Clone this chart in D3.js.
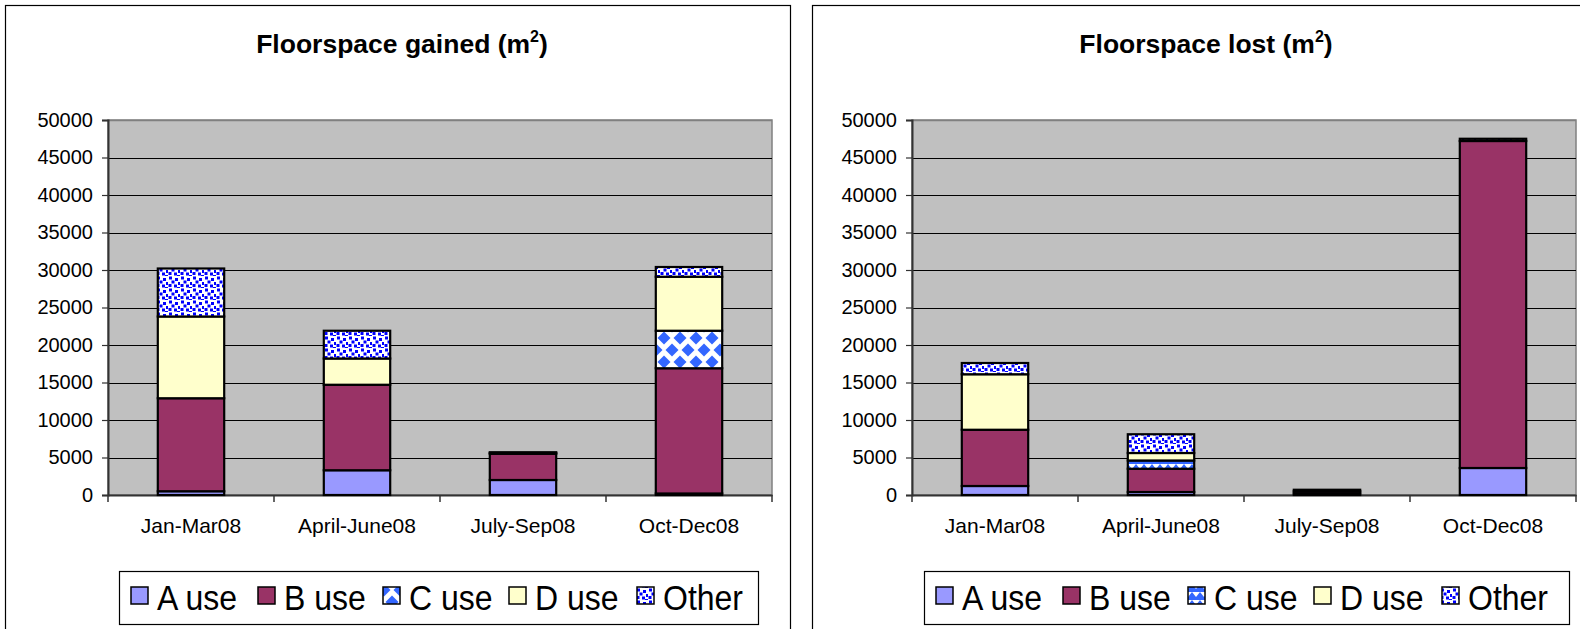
<!DOCTYPE html>
<html><head><meta charset="utf-8">
<script src="https://cdn.jsdelivr.net/npm/d3@7"></script>
<style>
html,body{margin:0;padding:0;background:#fff;}
svg{display:block;font-family:"Liberation Sans",Arial,sans-serif;}
</style></head>
<body>
<svg id="c" width="1580" height="629"></svg>
<script>
const categories = ["Jan-Mar08","April-June08","July-Sep08","Oct-Dec08"];
const seriesNames = ["A use","B use","C use","D use","Other"];
const yTicks = [0,5000,10000,15000,20000,25000,30000,35000,40000,45000,50000];

const gainedA = [500, 3300, 2000, 200];
const gainedB = [12400, 11400, 3500, 16700];
const gainedC = [0, 0, 0, 5000];
const gainedD = [10900, 3500, 100, 7200];
const gainedOther = [6400, 3700, 100, 1300];

const lostA = [1200, 400, 200, 3600];
const lostB = [7500, 3100, 300, 43600];
const lostC = [0, 1100, 0, 0];
const lostD = [7400, 1000, 0, 0];
const lostOther = [1500, 2500, 200, 300];

const svg = d3.select("#c");
const defs = svg.append("defs");

(function(){
  const p = defs.append("pattern").attr("id","patOther").attr("patternUnits","userSpaceOnUse")
    .attr("width",12).attr("height",12);
  p.append("rect").attr("width",12).attr("height",12).attr("fill","#fff");
  [[1,0.5],[7,2],[3.5,4.5],[10,6],[0.5,8],[6,8.5],[9,11]].forEach(([x,y])=>{
    p.append("rect").attr("x",x).attr("y",y).attr("width",3).attr("height",3).attr("fill","#0000FF");
  });
})();
(function(){
  const p = defs.append("pattern").attr("id","patCgain").attr("patternUnits","userSpaceOnUse")
    .attr("width",16).attr("height",24).attr("y",2);
  p.append("rect").attr("width",16).attr("height",24).attr("fill","#fff");
  const d = (cx,cy,r)=>`M${cx},${cy-r}L${cx+r},${cy}L${cx},${cy+r}L${cx-r},${cy}Z`;
  [[8,0],[0,12],[16,12],[8,24]].forEach(([x,y])=>{
    p.append("path").attr("d",d(x,y,6.5)).attr("fill","#3366FF");
  });
})();
(function(){
  const p = defs.append("pattern").attr("id","patClost").attr("patternUnits","userSpaceOnUse")
    .attr("width",16).attr("height",8);
  p.append("rect").attr("width",16).attr("height",8).attr("fill","#3366FF");
  p.append("path").attr("d","M0,0L8,0L4,5Z M8,0L16,0L12,5Z").attr("fill","#fff");
})();

function drawChart(cfg){
  const g = svg.append("g");
  g.append("rect").attr("x",cfg.frameX+0.5).attr("y",5.5).attr("width",cfg.frameW).attr("height",700)
    .attr("fill","#fff").attr("stroke","#000").attr("stroke-width",1.2);

  const x = d3.scaleBand().domain(categories).range([cfg.plotX, cfg.plotX+664]).paddingInner(0.6).paddingOuter(0.3);
  const xb = d3.scaleBand().domain(categories).range([cfg.plotX, cfg.plotX+664]);
  const y = d3.scaleLinear().domain([0,50000]).range([495,120]);

  g.append("rect").attr("x",cfg.plotX).attr("y",120).attr("width",664).attr("height",375)
    .attr("fill","#C0C0C0").attr("stroke","#808080").attr("stroke-width",1.5);

  g.append("g").selectAll("line").data(yTicks.filter(t=>t>0)).join("line")
    .attr("x1",cfg.plotX).attr("x2",cfg.plotX+664)
    .attr("y1",d=>Math.round(y(d))+0.5).attr("y2",d=>Math.round(y(d))+0.5)
    .attr("stroke",d=>d===50000?"#808080":"#000").attr("stroke-width",d=>d===50000?1.5:1.2);

  const ya = g.append("g").attr("transform",`translate(${cfg.plotX},0)`)
    .call(d3.axisLeft(y).tickValues(yTicks).tickSize(6).tickPadding(9).tickFormat(d3.format("d")));
  ya.select(".domain").attr("stroke","#333").attr("stroke-width",2);
  ya.selectAll(".tick line").attr("stroke","#333").attr("stroke-width",1.2);
  ya.selectAll("text").attr("font-size",20).attr("fill","#000").attr("font-family","Liberation Sans, Arial, sans-serif");

  const xa = g.append("g").attr("transform",`translate(0,495)`)
    .call(d3.axisBottom(xb).tickSize(0).tickPadding(23));
  xa.select(".domain").attr("stroke","#333").attr("stroke-width",2);
  xa.selectAll("text").attr("font-size",21).attr("fill","#000").attr("font-family","Liberation Sans, Arial, sans-serif");
  g.append("g").selectAll("line").data(d3.range(5)).join("line")
    .attr("x1",i=>cfg.plotX+i*166).attr("x2",i=>cfg.plotX+i*166)
    .attr("y1",495).attr("y2",502).attr("stroke","#333").attr("stroke-width",1.5);

  const rows = categories.map((c,i)=>{
    const r = {cat:c};
    seriesNames.forEach((s,k)=>r[s]=cfg.series[k][i]);
    return r;
  });
  const stack = d3.stack().keys(seriesNames)(rows);
  stack.forEach((layer,k)=>{
    g.append("g").selectAll("rect").data(layer.filter(d=>d[1]-d[0]>0)).join("rect")
      .attr("x",d=>x(d.data.cat)).attr("width",x.bandwidth())
      .attr("y",d=>y(d[1])).attr("height",d=>y(d[0])-y(d[1]))
      .attr("fill",cfg.fills[k]).attr("stroke","#000").attr("stroke-width",2.2);
  });

  const t = g.append("text").attr("x",cfg.titleX).attr("y",53).attr("text-anchor","middle")
    .attr("font-size",26.5).attr("font-weight","bold");
  t.append("tspan").text(cfg.title);
  t.append("tspan").attr("font-size",16).attr("dy",-11).text("2");
  t.append("tspan").attr("dy",11).text(")");

  const lg = g.append("g");
  lg.append("rect").attr("x",cfg.legX+0.5).attr("y",571.5).attr("width",cfg.legW).attr("height",53)
    .attr("fill","#fff").attr("stroke","#000").attr("stroke-width",1.2);
  seriesNames.forEach((s,k)=>{
    const lx = cfg.legX + cfg.legOffs[k];
    lg.append("rect").attr("x",lx).attr("y",587).attr("width",17).attr("height",17)
      .attr("fill",cfg.fills[k]).attr("stroke","#000").attr("stroke-width",1.5);
    lg.append("text").attr("transform",`translate(${lx+26},610) scale(1,1.08)`).attr("font-size",32).text(s);
  });
}

drawChart({
  frameX:5, frameW:785, plotX:108, titleX:402,
  title:"Floorspace gained (m",
  series:[gainedA,gainedB,gainedC,gainedD,gainedOther],
  fills:["#9999FF","#993366","url(#patCgain)","#FFFFCC","url(#patOther)"],
  legX:119, legW:639, legOffs:[12,139,264,390,518]
});
drawChart({
  frameX:812, frameW:800, plotX:912, titleX:1206,
  title:"Floorspace lost (m",
  series:[lostA,lostB,lostC,lostD,lostOther],
  fills:["#9999FF","#993366","url(#patClost)","#FFFFCC","url(#patOther)"],
  legX:924, legW:645, legOffs:[12,139,264,390,518]
});
</script>
</body></html>
